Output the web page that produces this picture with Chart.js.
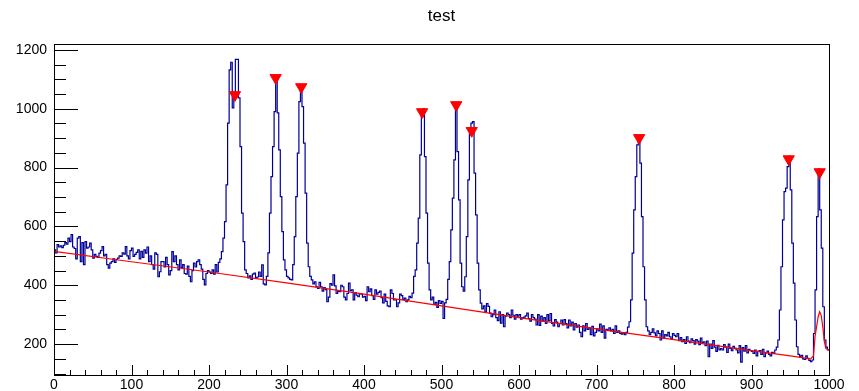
<!DOCTYPE html>
<html>
<head>
<meta charset="utf-8">
<script src="https://cdn.jsdelivr.net/npm/chart.js@4"></script>
<style>
  body { margin: 0; background: #fff; }
  canvas { display: block; }
</style>
</head>
<body>
<canvas id="histChart" width="859" height="391"></canvas>
<script>
  // histogram "test": 500 bins on [0, 1000]
  const xMin = 0;
  const xMax = 1000;
  const binWidth = 2;

  const counts = [
    520, 510, 538, 530, 534, 528, 536, 545, 540, 560,
    548, 572, 530, 525, 490, 560, 565, 480, 545, 470,
    548, 526, 530, 543, 520, 492, 505, 498, 495, 509,
    518, 531, 500, 505, 470, 458, 475, 480, 490, 478,
    488, 492, 500, 498, 510, 506, 531, 500, 490, 518,
    526, 498, 505, 512, 520, 490, 515, 495, 520, 509,
    530, 480, 500, 470, 455, 510, 505, 429, 446, 480,
    480, 462, 495, 470, 435, 450, 514, 480, 500, 470,
    452, 486, 460, 470, 440, 438, 465, 430, 412, 450,
    475, 462, 480, 486, 470, 455, 420, 401, 440, 450,
    445, 440, 452, 438, 470, 445, 478, 490, 514, 560,
    616, 741, 951, 1132, 1158, 1003, 1054, 1168, 1168, 1037,
    871, 645, 548, 452, 440, 425, 432, 420, 438, 441,
    425, 428, 445, 430, 469, 405, 401, 430, 510, 645,
    769, 871, 990, 1105, 986, 860, 701, 582, 486, 452,
    430, 425, 420, 418, 470, 565, 701, 849, 1024, 1078,
    1007, 883, 713, 543, 463, 430, 418, 405, 412, 395,
    389, 410, 395, 380, 392, 385, 344, 360, 406, 400,
    435, 398, 372, 380, 378, 400, 395, 360, 350, 372,
    407, 382, 384, 350, 375, 366, 361, 372, 370, 360,
    362, 348, 395, 378, 388, 365, 352, 384, 370, 376,
    380, 358, 340, 370, 345, 330, 327, 384, 372, 350,
    350, 327, 340, 370, 365, 352, 356, 344, 350, 362,
    358, 373, 430, 452, 543, 628, 843, 973, 1000, 837,
    645, 475, 384, 350, 360, 335, 342, 325, 348, 338,
    345, 287, 340, 352, 420, 480, 588, 696, 826, 1015,
    854, 690, 475, 395, 380, 429, 565, 758, 917, 951,
    956, 781, 639, 475, 384, 339, 320, 330, 310, 338,
    328, 305, 293, 300, 316, 290, 280, 310, 271, 300,
    259, 295, 305, 300, 290, 316, 298, 285, 300, 295,
    300, 285, 290, 292, 296, 305, 287, 278, 300, 290,
    285, 265, 300, 264, 295, 278, 290, 270, 300, 280,
    304, 270, 262, 283, 275, 259, 270, 282, 265, 283,
    270, 255, 282, 262, 275, 248, 270, 258, 265, 240,
    225, 262, 245, 270, 250, 255, 232, 260, 228, 240,
    252, 245, 268, 240, 262, 220, 250, 248, 255, 245,
    250, 236, 262, 240, 245, 236, 234, 238, 232, 240,
    258, 276, 350, 509, 656, 769, 877, 905, 815, 633,
    463, 350, 259, 245, 232, 240, 252, 238, 228, 245,
    236, 214, 245, 220, 232, 228, 240, 225, 218, 236,
    230, 225, 236, 212, 222, 208, 215, 202, 225, 210,
    205, 218, 212, 200, 215, 210, 198, 220, 205, 208,
    195, 210, 157, 200, 185, 212, 190, 175, 196, 180,
    185, 180, 198, 190, 172, 200, 185, 178, 192, 186,
    180, 170, 195, 139, 188, 176, 195, 170, 182, 178,
    175, 168, 180, 160, 175, 178, 165, 182, 157, 170,
    176, 165, 160, 172, 168, 180, 190, 214, 316, 463,
    622, 718, 730, 803, 838, 724, 543, 407, 282, 191,
    165, 158, 162, 150, 148, 160, 152, 145, 140, 146,
    236, 384, 633, 795, 656, 526, 327, 214, 190, 180
  ];

  // estimated background (red)
  const bgX = [0, 100, 200, 300, 400, 500, 600, 700, 800, 900, 950, 976, 980, 982, 986, 988, 990, 992, 994, 996, 1000];
  const bgY = [515, 480, 445, 408, 370, 330, 290, 252, 215, 178, 160, 150, 160, 225, 293, 310, 297, 259, 208, 185, 180];

  // found peaks (markers)
  const peakX = [233.5, 286, 319, 475, 519, 539, 755, 948, 988];
  const peakY = [1047, 1105, 1074, 989, 1013, 925, 901, 829, 785];

  const xTicks = [0, 100, 200, 300, 400, 500, 600, 700, 800, 900, 1000];
  const yTicks = [200, 400, 600, 800, 1000, 1200];
  const yMin = 95;
  const yMax = 1220;

  // step points on bin left edges, plus closing edge
  const histPoints = counts.map((c, i) => ({ x: xMin + i * binWidth, y: c }));
  histPoints.push({ x: xMax, y: counts[counts.length - 1] });

  const rootFrame = {
    id: 'rootFrame',
    afterDraw(chart) {
      const ctx = chart.ctx;
      const a = chart.chartArea;
      const xs = chart.scales.x;
      const ys = chart.scales.y;
      ctx.save();
      ctx.strokeStyle = '#000';
      ctx.lineWidth = 1;
      ctx.beginPath();
      // x ticks, pointing inward
      for (let v = xMin; v <= xMax; v += 20) {
        const px = Math.round(xs.getPixelForValue(v)) + 0.5;
        const len = v % 100 === 0 ? 10 : 5;
        ctx.moveTo(px, a.bottom);
        ctx.lineTo(px, a.bottom - len);
      }
      // y ticks
      for (let v = 100; v <= yMax; v += 50) {
        if (v < yMin) continue;
        const py = Math.round(ys.getPixelForValue(v)) + 0.5;
        const len = v % 200 === 0 ? 24 : 12;
        ctx.moveTo(a.left, py);
        ctx.lineTo(a.left + len, py);
      }
      ctx.stroke();
      ctx.strokeRect(Math.round(a.left) + 0.5, Math.round(a.top) + 0.5,
        Math.round(a.right - a.left), Math.round(a.bottom - a.top));
      ctx.restore();
    }
  };

  const config = {
    type: 'line',
    data: {
      datasets: [
        {
          type: 'scatter',
          data: peakX.map((x, i) => ({ x: x, y: peakY[i] })),
          pointStyle: 'triangle',
          rotation: 180,
          pointRadius: 6.5,
          backgroundColor: '#ff0000',
          borderColor: '#ff0000',
          borderWidth: 1,
          showLine: false
        },
        {
          data: bgX.map((x, i) => ({ x: x, y: bgY[i] })),
          borderColor: '#ff0000',
          borderWidth: 1.2,
          pointRadius: 0,
          tension: 0,
          fill: false
        },
        {
          data: histPoints,
          borderColor: '#000099',
          borderWidth: 1.2,
          pointRadius: 0,
          stepped: true,
          fill: false
        }
      ]
    },
    options: {
      responsive: false,
      devicePixelRatio: 1,
      animation: false,
      layout: { padding: { left: 0, right: 30, top: 0, bottom: 0 } },
      plugins: {
        legend: { display: false },
        tooltip: { enabled: false },
        title: {
          display: true,
          text: 'test',
          fullSize: false,
          color: '#000',
          font: { family: 'Liberation Sans, Arial, sans-serif', size: 17, weight: 'normal' },
          padding: { top: 6, bottom: 17.6 }
        }
      },
      scales: {
        x: {
          type: 'linear',
          min: xMin,
          max: xMax,
          afterBuildTicks: (s) => { s.ticks = xTicks.map(v => ({ value: v })); },
          afterFit: (s) => { s.height = 16; },
          grid: { display: false, drawTicks: false },
          border: { display: false },
          ticks: {
            color: '#000',
            padding: 2,
            maxRotation: 0,
            autoSkip: false,
            callback: (v) => String(v),
            font: { family: 'Liberation Sans, Arial, sans-serif', size: 14 }
          }
        },
        y: {
          min: yMin,
          max: yMax,
          afterBuildTicks: (s) => { s.ticks = yTicks.map(v => ({ value: v })); },
          afterFit: (s) => { s.width = 54; },
          grid: { display: false, drawTicks: false },
          border: { display: false },
          ticks: {
            color: '#000',
            padding: 7,
            callback: (v) => String(v),
            font: { family: 'Liberation Sans, Arial, sans-serif', size: 14 }
          }
        }
      }
    },
    plugins: [rootFrame]
  };

  const histChart = new Chart(document.getElementById('histChart'), config);
</script>
</body>
</html>
